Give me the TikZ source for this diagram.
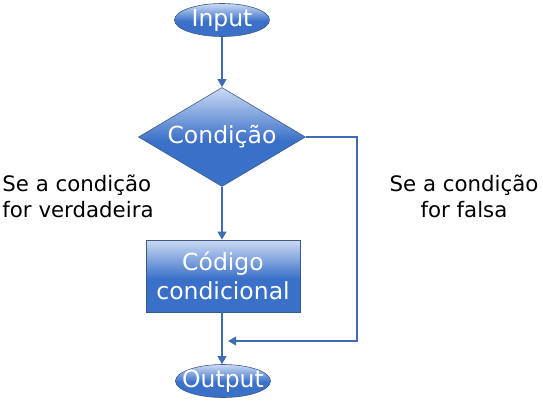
\documentclass[tikz,border=0pt]{standalone}
\usepackage{fontspec}
\setmainfont{DejaVu Sans}
\usetikzlibrary{shapes.geometric,arrows.meta}

\definecolor{flowtop}{RGB}{204,219,244}
\definecolor{flowbot}{RGB}{58,112,200}
\definecolor{flowedge}{RGB}{60,90,140}
\definecolor{flowline}{RGB}{62,108,182}
\pgfdeclareverticalshading{flowshade}{100bp}{color(0bp)=(flowbot); color(25bp)=(flowbot); color(48bp)=(flowbot); color(75bp)=(flowtop); color(100bp)=(flowtop)}

\tikzset{
  shapetext/.style={text=white, font=\fontsize{23.5}{29}\selectfont, draw=flowedge, line width=0.6pt, shading=flowshade, inner sep=0pt},
  terminal/.style={shapetext, ellipse, inner xsep=-8pt, inner ysep=-1pt, minimum width=95, minimum height=33},
  decision/.style={shapetext, diamond, aspect=1.69, minimum width=167, minimum height=99},
  process/.style={shapetext, rectangle, minimum width=154, minimum height=72, align=center},
  sidetext/.style={font=\fontsize{21.3}{26}\selectfont, inner sep=0pt},
  flow/.style={draw=flowline, line width=2pt, -{Triangle[length=8pt,width=8.5pt]}}
}

\begin{document}
\begin{tikzpicture}[x=1pt, y=-1pt]
\useasboundingbox (0,0) rectangle (543,407);

\node[terminal] (input) at (222,20) {Input};
\node[decision] (cond) at (222,137) {Condição};
\node[process] (code) at (223,276) {Código\\condicional};
\node[terminal] (output) at (223,381) {Output};

\node[sidetext, align=left] (true) at (78,196) {Se a condição\\for verdadeira};
\node[sidetext, align=center] (false) at (464,196) {Se a condição\\for falsa};

\coordinate (corner) at (357,341);
\coordinate (join) at (228,341);

\draw[flow] (input) -- (cond);
\draw[flow] (cond) -- (cond.south |- code.north);
\draw[flow] (cond.south |- code.south) -- (cond.south |- output.north);
\draw[flow] (cond.east) -| (corner) -- (join);

\end{tikzpicture}
\end{document}
